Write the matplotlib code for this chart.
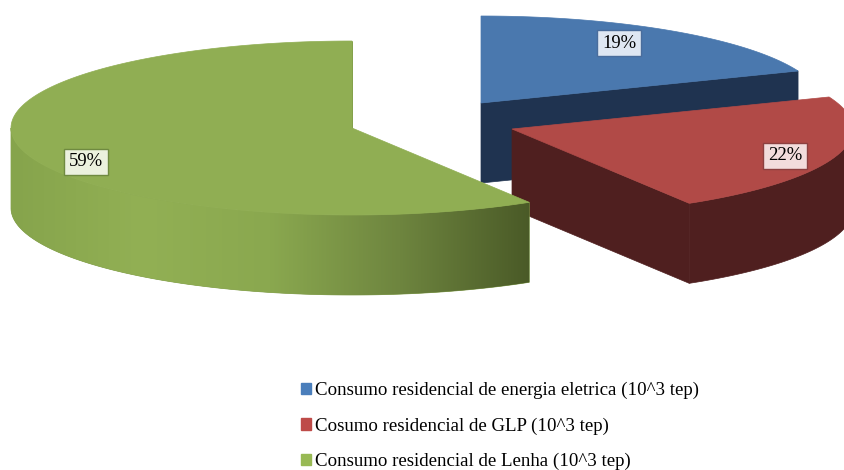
import numpy as np
import matplotlib
matplotlib.use('Agg')
import matplotlib.pyplot as plt
from matplotlib.colors import LinearSegmentedColormap
from matplotlib.patches import Patch, Polygon

# dados
labels = ['Consumo residencial de energia eletrica (10^3 tep)',
          'Cosumo residencial de GLP (10^3 tep)',
          'Consumo residencial de Lenha (10^3 tep)']
values = [19.0, 22.3, 58.7]
pct_labels = ['19%', '22%', '59%']

# aparencia
top_colors = ['#4a78ae', '#b14a47', '#90ae53']
side_colors = ['#1f3350', '#4f1f1f', '#7f9b48']
box_colors = ['#dfe7f2', '#f2dcdc', '#ebf1de']
edge_colors = ['#4a6d9c', '#8c4040', '#6f8a40']
legend_colors = ['#4a7ebb', '#be4b48', '#98b954']
green_side = ['#86a44c', '#92b054', '#8aa84f', '#6e853f', '#4a5a27']

centers = [(481, 103), (512, 129), (352, 128)]
label_pos = [(619, 43), (785, 156), (86, 162)]
RX, RY, DEPTH = 341, 87, 80

plt.rcParams['font.family'] = ['Liberation Serif', 'DejaVu Serif']
fig = plt.figure(figsize=(8.44, 4.7), dpi=100)
ax = fig.add_axes([0, 0, 1, 1])


def rim(c, t):
    t = np.radians(t)
    return np.column_stack([c[0] + RX * np.sin(t), c[1] - RY * np.cos(t)])


angles = np.cumsum([0] + values) / sum(values) * 360

for i, c in enumerate(centers):
    t1, t2 = angles[i], angles[i + 1]
    ts = np.linspace(t1, t2, 200)
    top = np.vstack([[c], rim(c, ts)])

    # face do corte
    p = rim(c, [t2])[0]
    cut = [c, p, (p[0], p[1] + DEPTH), (c[0], c[1] + DEPTH)]
    ax.add_patch(Polygon(cut, fc=side_colors[i], ec=side_colors[i], lw=0.5, zorder=i * 3 + 1))

    # lateral curva
    a, b = max(t1, 90), min(t2, 270)
    if a < b:
        arc = rim(c, np.linspace(a, b, 200))
        low = arc[::-1] + [0, DEPTH]
        side = Polygon(np.vstack([arc, low]), fc=side_colors[i], ec=side_colors[i], lw=0.5,
                       zorder=i * 3 + 2)
        ax.add_patch(side)
        if i == 2:
            cmap = LinearSegmentedColormap.from_list('lenha', green_side)
            grad = ax.imshow(np.linspace(0, 1, 256)[None, :], cmap=cmap, aspect='auto',
                             extent=[arc[:, 0].min(), arc[:, 0].max(), 300, 100],
                             zorder=i * 3 + 2.5)
            grad.set_clip_path(side)

    ax.add_patch(Polygon(top, fc=top_colors[i], ec=top_colors[i], lw=0.5, zorder=i * 3 + 3))

for i, (x, y) in enumerate(label_pos):
    ax.text(x, y, pct_labels[i], fontsize=13.4, ha='center', va='center', color='black', zorder=20,
            bbox=dict(boxstyle='square,pad=0.25', fc=box_colors[i], ec=edge_colors[i], lw=1))

ax.set_xlim(0, 844)
ax.set_ylim(470, 0)
ax.axis('off')

handles = [Patch(fc=col, ec=col) for col in legend_colors]
ax.legend(handles, labels, loc='lower left', bbox_to_anchor=(301 / 844, 0), frameon=False,
          fontsize=13.6, handlelength=0.55, handleheight=0.55, handletextpad=0.2,
          labelspacing=0.95, borderpad=0, borderaxespad=0)

fig.savefig('out.png', dpi=100)
